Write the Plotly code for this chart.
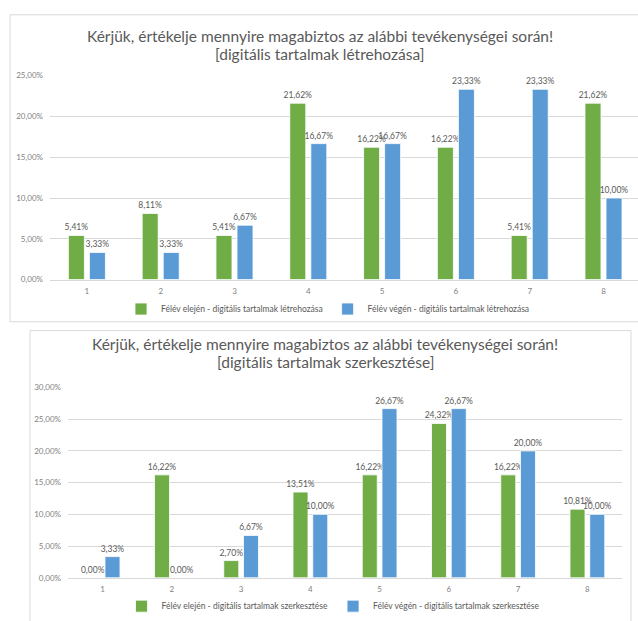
import plotly.graph_objects as go

W, H = 638, 621

categories = [1, 2, 3, 4, 5, 6, 7, 8]

# Chart 1: digitális tartalmak létrehozása
top_start = [5.41, 8.11, 5.41, 21.62, 16.22, 16.22, 5.41, 21.62]
top_end = [3.33, 3.33, 6.67, 16.67, 16.67, 23.33, 23.33, 10.00]
top_names = ["Félév elején - digitális tartalmak létrehozása",
             "Félév végén - digitális tartalmak létrehozása"]
top_title = ["Kérjük, értékelje mennyire magabiztos az alábbi tevékenységei során!",
             "[digitális tartalmak létrehozása]"]

# Chart 2: digitális tartalmak szerkesztése
bot_start = [0.00, 16.22, 2.70, 13.51, 16.22, 24.32, 16.22, 10.81]
bot_end = [3.33, 0.00, 6.67, 10.00, 26.67, 26.67, 20.00, 10.00]
bot_names = ["Félév elején - digitális tartalmak szerkesztése",
             "Félév végén - digitális tartalmak szerkesztése"]
bot_title = ["Kérjük, értékelje mennyire magabiztos az alábbi tevékenységei során!",
             "[digitális tartalmak szerkesztése]"]

GREEN = "#70AD47"
BLUE = "#5B9BD5"
GRAY = "#595959"
GRID = "#D9D9D9"
FONT = "Lato"


def px(x):
    return x / W


def py(y):
    return 1 - y / H


def fmt(v):
    return f"{v:.2f}".replace(".", ",") + "%"


fig = go.Figure()

for vals, name, color, xa, ya, lg in [
    (top_start, top_names[0], GREEN, "x", "y", "legend"),
    (top_end, top_names[1], BLUE, "x", "y", "legend"),
    (bot_start, bot_names[0], GREEN, "x2", "y2", "legend2"),
    (bot_end, bot_names[1], BLUE, "x2", "y2", "legend2"),
]:
    fig.add_trace(go.Bar(
        x=categories, y=vals, name=name,
        marker=dict(color=color, line=dict(color="white", width=0.8)),
        text=[fmt(v) for v in vals], textposition="outside",
        textfont=dict(size=8.5, color=GRAY, family=FONT),
        constraintext="none",
        cliponaxis=False, xaxis=xa, yaxis=ya, legend=lg,
        hoverinfo="skip",
    ))

# plot areas (pixel geometry)
top_l, top_r, top_b, top_t = 50, 638, 280, 72
top_xmax = 0.5 + (top_r - top_l) / 73.8
bot_l, bot_r, bot_b, bot_t = 68, 622, 584, 390

axis_common = dict(showgrid=False, showline=True, linecolor=GRID, linewidth=1,
                   ticks="", tickfont=dict(size=8, color="#7F7F7F", family=FONT),
                   tickvals=categories, ticktext=[str(c) for c in categories],
                   zeroline=False, fixedrange=True, ticklabelstandoff=4)
yaxis_common = dict(showgrid=True, gridcolor=GRID, gridwidth=1, zeroline=False,
                    showline=False, ticks="", tickformat=".2f", ticksuffix="%",
                    dtick=5, tickfont=dict(size=8, color="#7F7F7F", family=FONT),
                    fixedrange=True, ticklabelstandoff=6)

fig.update_layout(
    width=W, height=H,
    margin=dict(l=0, r=0, t=0, b=0),
    paper_bgcolor="white", plot_bgcolor="white",
    separators=", ",
    barmode="group", bargap=0.43, bargroupgap=0.24,
    font=dict(family=FONT, color=GRAY),
    xaxis=dict(domain=[px(top_l), px(top_r)], range=[0.5, top_xmax], anchor="y", **axis_common),
    yaxis=dict(domain=[py(top_b), py(top_t - 0.3)], range=[0, 25.04], anchor="x", **yaxis_common),
    xaxis2=dict(domain=[px(bot_l), px(bot_r)], range=[0.5, 8.5], anchor="y2", **axis_common),
    yaxis2=dict(domain=[py(bot_b), py(bot_t - 0.3)], range=[0, 30.05], anchor="x2", **yaxis_common),
    legend=dict(orientation="h", x=px(328), xanchor="center", y=py(310), yanchor="middle",
                font=dict(size=8.5, color=GRAY, family=FONT), itemwidth=30,
                bgcolor="rgba(0,0,0,0)", traceorder="normal"),
    legend2=dict(orientation="h", x=px(333), xanchor="center", y=py(613), yanchor="middle",
                 font=dict(size=8.5, color=GRAY, family=FONT), itemwidth=30,
                 bgcolor="rgba(0,0,0,0)", traceorder="normal"),
    showlegend=True,
)

# chart frames
fig.add_shape(type="rect", xref="paper", yref="paper",
              x0=px(10), x1=px(660), y0=py(323), y1=py(10),
              line=dict(color=GRID, width=1), layer="below")
fig.add_shape(type="rect", xref="paper", yref="paper",
              x0=px(30), x1=px(631), y0=py(640), y1=py(332),
              line=dict(color=GRID, width=1), layer="below")

# titles
for text, cx, cy in [(top_title[0], 320, 32), (top_title[1], 320, 50),
                     (bot_title[0], 325, 346), (bot_title[1], 325, 364)]:
    fig.add_annotation(text=text, x=px(cx), y=py(cy), xref="paper", yref="paper",
                       xanchor="center", yanchor="middle", showarrow=False,
                       font=dict(size=15.5, color=GRAY, family=FONT))

fig.write_html("out.html", config={"displayModeBar": False},
               post_script="document.body.style.margin='0';document.body.style.overflow='hidden';")
